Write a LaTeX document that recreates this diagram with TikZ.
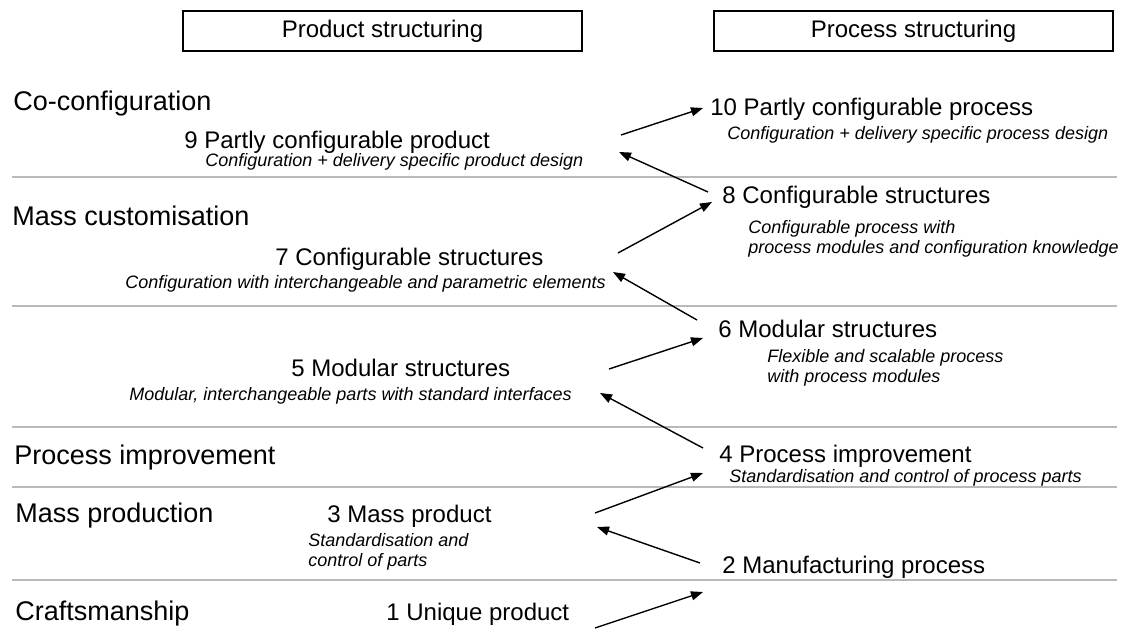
\documentclass[tikz,border=0pt]{standalone}
\usepackage{fontspec}
\setmainfont{Liberation Sans}
\usetikzlibrary{arrows.meta}

\tikzset{
  header/.style={draw, line width=0.6pt, minimum width=199.5pt, minimum height=20pt, inner sep=0pt, font=\fontsize{12}{14}\selectfont},
  stage/.style={anchor=base west, inner sep=0pt, font=\fontsize{13.5}{16}\selectfont},
  item/.style={anchor=base west, inner sep=0pt, font=\fontsize{12}{14}\selectfont},
  note/.style={anchor=base west, inner sep=0pt, align=left, font=\fontsize{9}{10}\selectfont\itshape},
  divider/.style={gray!55, line width=0.7pt},
  flow/.style={-{Triangle[length=6pt,width=4.5pt]}, line width=0.7pt}
}

\begin{document}
\begin{tikzpicture}[x=0.5pt,y=-0.5pt]
        \useasboundingbox (0,0) rectangle (1121,632);
        % Column headers
        \node[header] (prodhead) at (382.5,31) {Product structuring};
        \node[header] (prochead) at (913.5,31) {Process structuring};
        % Divide the stages
        \foreach \yy in {177,306,427,487,580}
          \draw[divider] (12,\yy) -- (1117,\yy);
        % Stages
        \node[stage] (coconf) at (13,110) {Co-configuration};
        \node[stage] (masscust) at (12,225) {Mass customisation};
        \node[stage] (procimp) at (14,464) {Process improvement};
        \node[stage] (massprod) at (15,522) {Mass production};
        \node[stage] (craft) at (15,620) {Craftsmanship};
        % Product side (two-line notes sit on their last line)
        \node[item] (p9) at (184,148) {9 Partly configurable product};
        \node[note] (n9) at (205,166) {Configuration + delivery specific product design};
        \node[item] (p7) at (275,265) {7 Configurable structures};
        \node[note] (n7) at (125,288) {Configuration with interchangeable and parametric elements};
        \node[item] (p5) at (291,376) {5 Modular structures};
        \node[note] (n5) at (129,400) {Modular, interchangeable parts with standard interfaces};
        \node[item] (p3) at (327,522) {3 Mass product};
        \node[note] (n3) at (308,566) {Standardisation and\\control of parts};
        \node[item] (p1) at (386,620) {1 Unique product};
        % Process side
        \node[item] (p10) at (710,115) {10 Partly configurable process};
        \node[note] (n10) at (727,139) {Configuration + delivery specific process design};
        \node[item] (p8) at (722,203) {8 Configurable structures};
        \node[note] (n8) at (748,253) {Configurable process with\\process modules and configuration knowledge};
        \node[item] (p6) at (718,337) {6 Modular structures};
        \node[note] (n6) at (767,382) {Flexible and scalable process\\with process modules};
        \node[item] (p4) at (719,462) {4 Process improvement};
        \node[note] (n4) at (729,482) {Standardisation and control of process parts};
        \node[item] (p2) at (722,573) {2 Manufacturing process};
        % Arrow ends
        \coordinate (p1-out) at (595,628);
        \coordinate (p2-in) at (703,592);
        \coordinate (p2-out) at (700,563);
        \coordinate (p3-in) at (597,527);
        \coordinate (p3-out) at (595,513);
        \coordinate (p4-in) at (703,473);
        \coordinate (p4-out) at (703,448);
        \coordinate (p5-in) at (600,393);
        \coordinate (p5-out) at (609,369);
        \coordinate (p6-in) at (703,338);
        \coordinate (p6-out) at (697,320);
        \coordinate (p7-in) at (613,272);
        \coordinate (p7-out) at (618,253);
        \coordinate (p8-in) at (712,202);
        \coordinate (p8-out) at (708,192);
        \coordinate (p9-in) at (619,152);
        \coordinate (p9-out) at (621,135);
        \coordinate (p10-in) at (703,108);
        % Draw the steps
        \foreach \a/\b in {p1/p2,p2/p3,p3/p4,p4/p5,p5/p6,p6/p7,p7/p8,p8/p9,p9/p10}
          \draw[flow] (\a-out) -- (\b-in);
    \end{tikzpicture}
\end{document}
